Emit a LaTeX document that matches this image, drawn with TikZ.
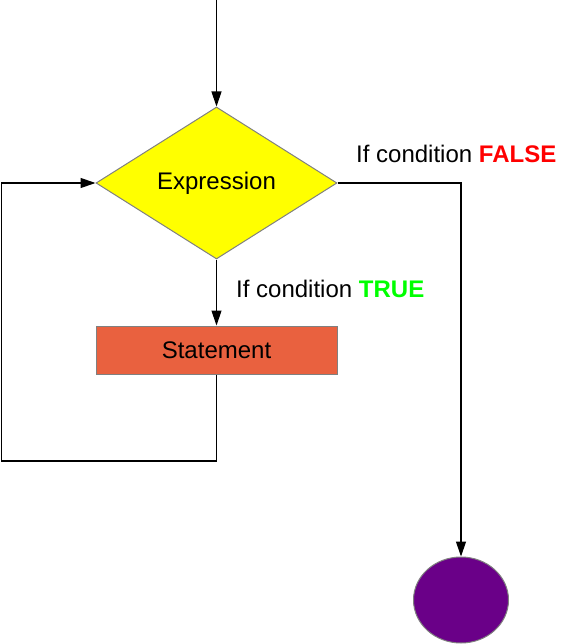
\documentclass[tikz,border=0pt]{standalone}
\usepackage{fontspec}
\setmainfont{Liberation Sans}
\usetikzlibrary{shapes.geometric,arrows.meta}
\definecolor{stmtfill}{HTML}{E9613F}
\definecolor{endfill}{HTML}{6A0088}
\definecolor{truegreen}{HTML}{00FF00}
\definecolor{diafill}{HTML}{FFFF00}
\tikzset{
  flow/.style={draw=black, line width=1.2pt, -{Triangle[length=15pt,width=10pt]}},
  shapeborder/.style={draw=black!50, line width=1pt},
  lbl/.style={font=\fontsize{24}{28}\selectfont, inner sep=0pt},
}
\begin{document}
\begin{tikzpicture}[x=1pt,y=-1pt]
\useasboundingbox (0,0) rectangle (566,644);
\node[diamond, shapeborder, fill=diafill, minimum width=241pt, minimum height=152pt, inner sep=0pt, lbl] (dia) at (216.5,183) {Expression};
\node[rectangle, shapeborder, fill=stmtfill, minimum width=241pt, minimum height=48pt, inner sep=0pt, lbl] (stmt) at (216.5,350) {Statement};
\node[ellipse, shapeborder, fill=endfill, minimum width=95pt, minimum height=86pt, inner sep=0pt] (end) at (461,600) {};
\node[lbl, anchor=base west] (flbl) at (356,163) {If condition \textbf{\textcolor{red}{FALSE}}};
\node[lbl, anchor=base west] (tlbl) at (236,297) {If condition \textbf{\textcolor{truegreen}{TRUE}}};
\coordinate (top) at (216.5,0);
\coordinate (lb) at (1.5,461);
\draw[flow] (top) -- (dia.north);
\draw[flow] (dia.east) -| (end.north);
\draw[flow] (dia.south) -- (stmt.north);
\draw[flow] (stmt.south) |- (lb) |- (dia.west);
\end{tikzpicture}
\end{document}
